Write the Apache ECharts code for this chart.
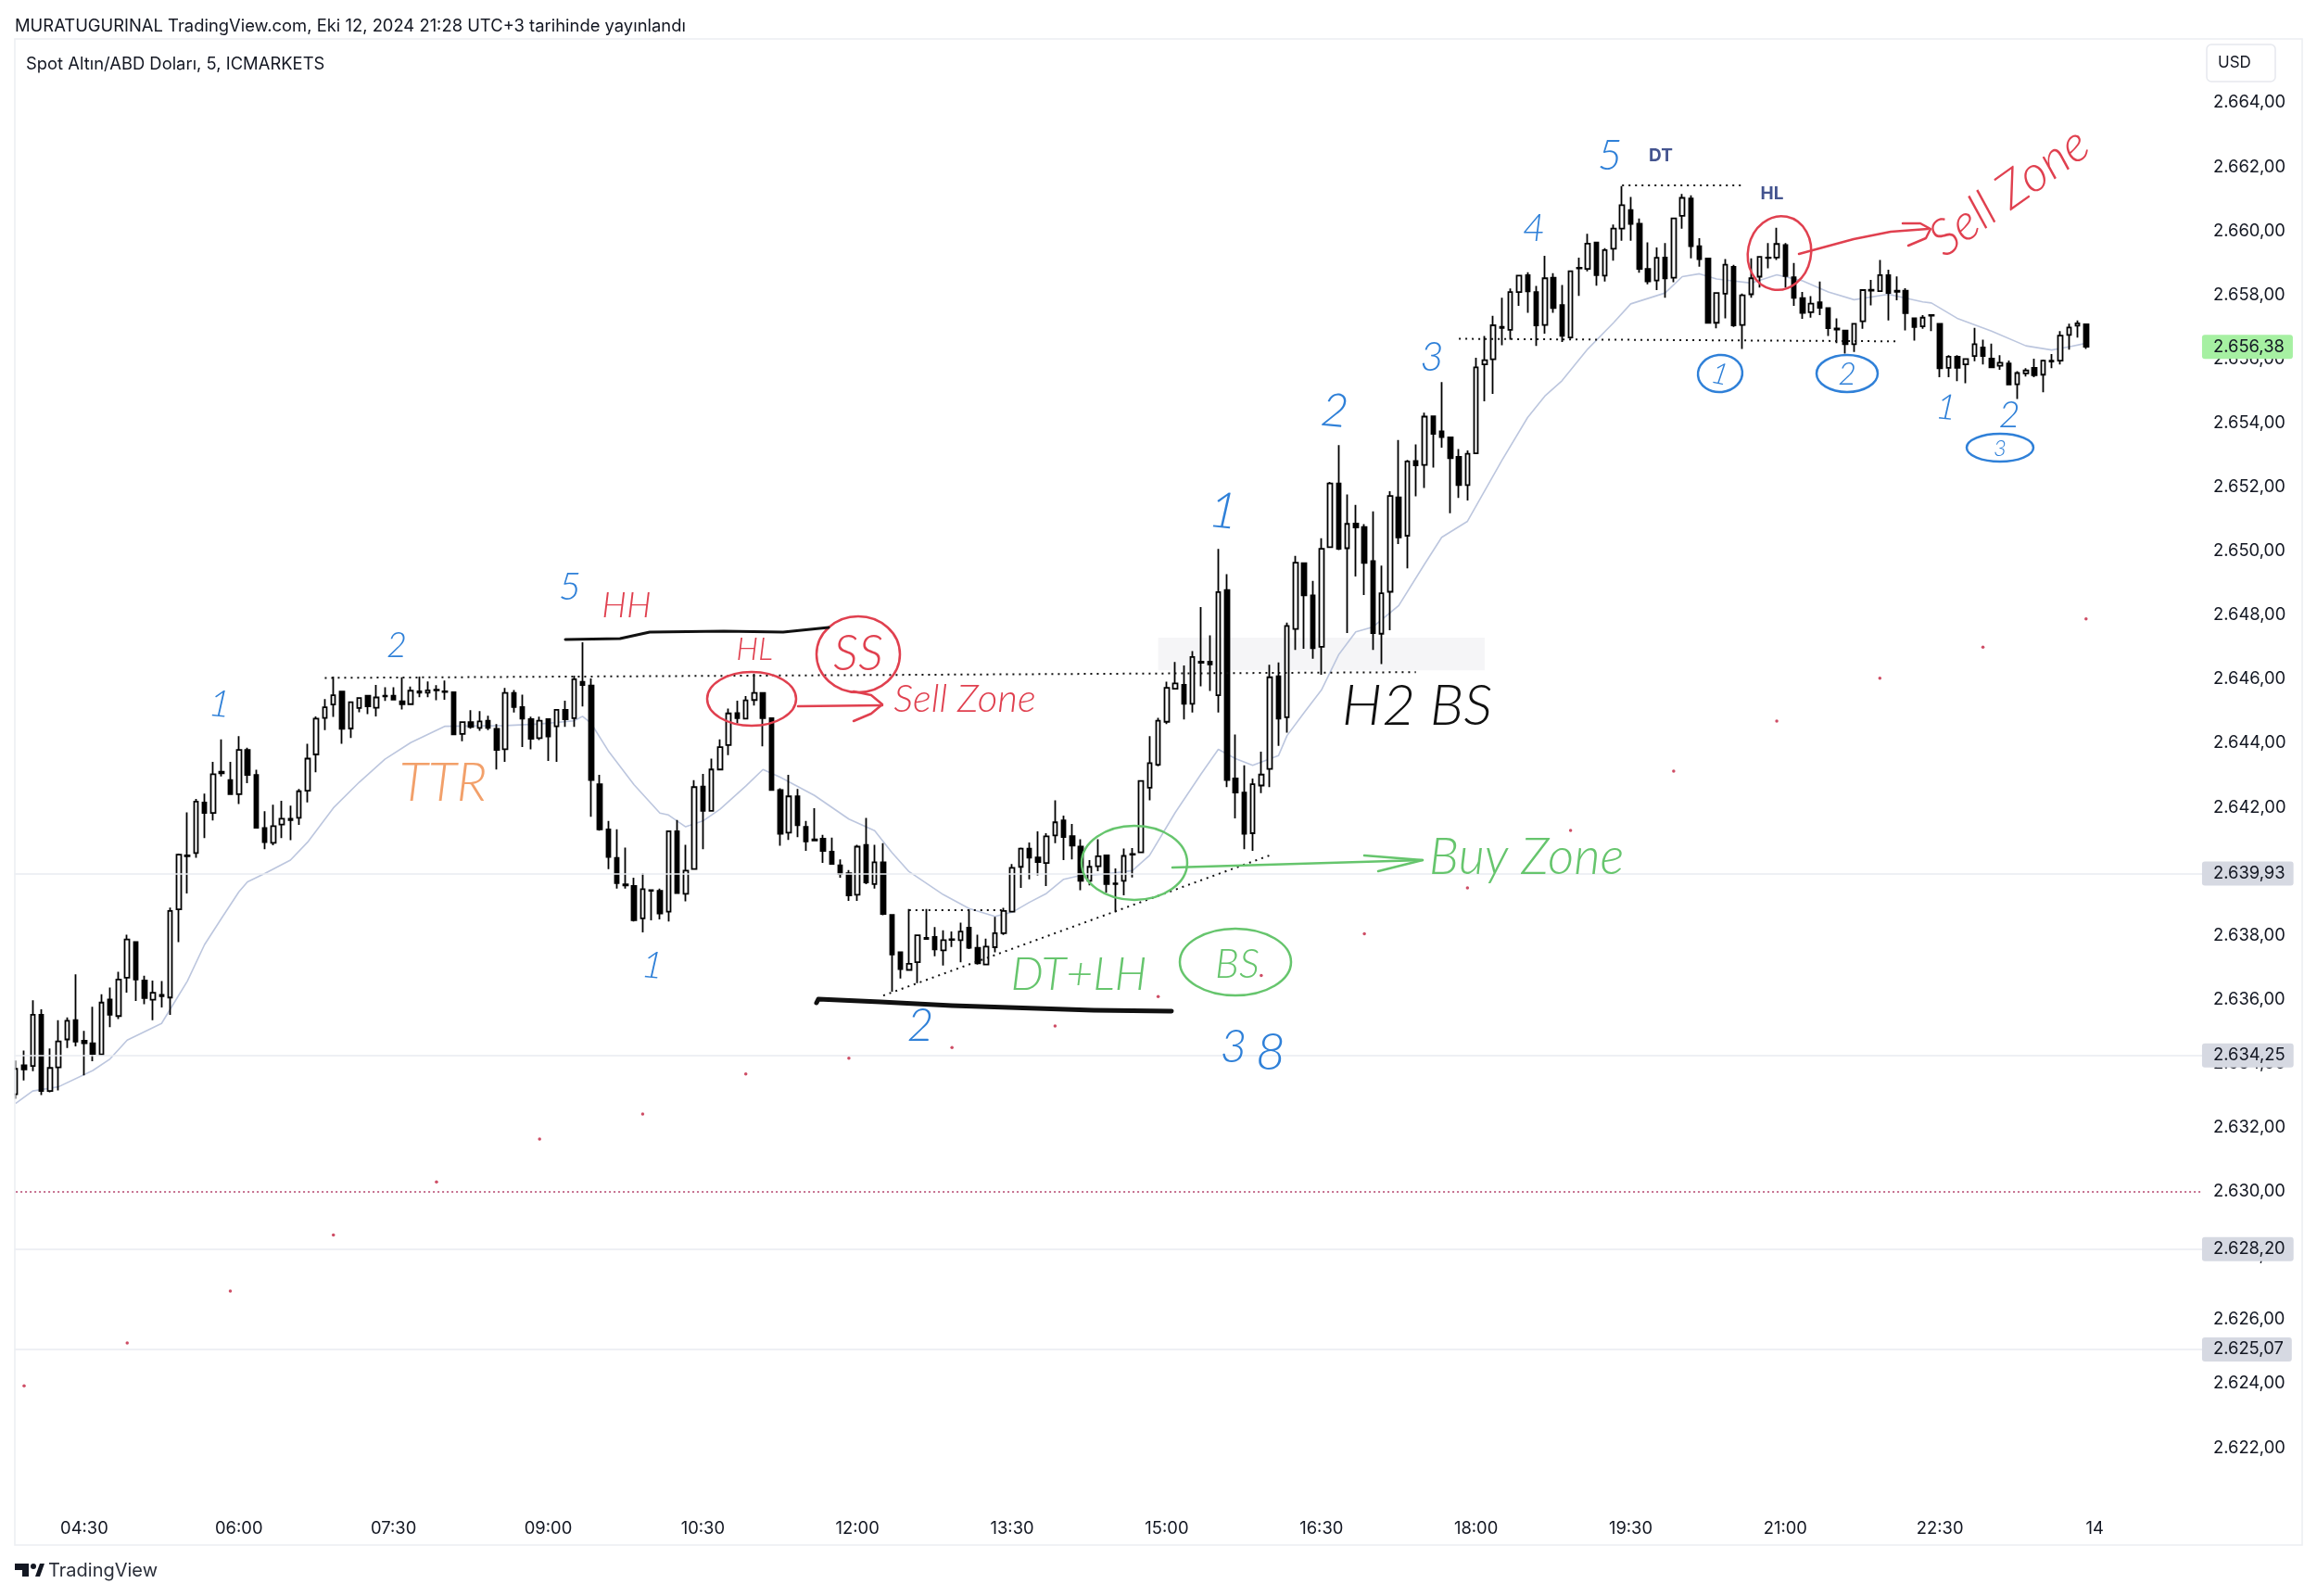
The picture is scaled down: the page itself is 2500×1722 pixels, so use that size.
<!DOCTYPE html>
<html>
<head>
<meta charset="utf-8">
<title>Spot Altın/ABD Doları</title>
<script src="https://cdn.jsdelivr.net/npm/echarts@6/dist/echarts.min.js"></script>
<style>
html, body { margin: 0; padding: 0; background: #fff; }
#chart { width: 2500px; height: 1722px; }
</style>
</head>
<body>
<div id="chart"></div>
<script>
// open, close, low, high - 5 minute bars
var candles = [
[2633.04,2633.83,2632.90,2634.09],[2633.94,2633.81,2633.47,2634.40],[2633.92,2635.52,2633.76,2635.97],[2635.52,2633.14,2633.01,2635.69],
[2633.14,2633.86,2633.10,2634.47],[2633.88,2634.69,2633.16,2635.35],[2634.75,2635.33,2634.48,2635.44],[2635.35,2634.68,2634.53,2636.78],
[2634.71,2634.63,2633.63,2635.02],[2634.63,2634.30,2634.07,2635.77],[2634.28,2635.90,2634.25,2636.16],[2636.00,2635.52,2635.13,2636.37],
[2635.48,2636.62,2635.39,2636.86],[2636.68,2637.87,2636.21,2638.02],[2637.79,2636.62,2635.95,2637.82],[2636.59,2636.04,2635.85,2636.74],
[2635.99,2636.21,2635.35,2636.59],[2636.14,2636.10,2635.75,2636.57],[2636.06,2638.76,2635.52,2638.87],[2638.81,2640.52,2637.79,2640.55],
[2640.50,2640.47,2639.31,2641.84],[2640.57,2642.18,2640.42,2642.26],[2642.15,2641.82,2641.04,2642.43],[2641.82,2643.03,2641.59,2643.42],
[2643.11,2643.06,2642.96,2644.12],[2642.85,2642.41,2642.38,2643.42],[2642.41,2643.79,2642.10,2644.22],[2643.79,2643.01,2642.75,2643.86],
[2643.01,2641.36,2641.35,2643.17],[2641.35,2640.91,2640.69,2641.88],[2640.89,2641.41,2640.81,2642.08],[2641.46,2641.64,2641.04,2642.20],
[2641.64,2641.60,2640.97,2642.05],[2641.67,2642.50,2641.45,2642.57],[2642.52,2643.52,2642.15,2643.98],[2643.65,2644.77,2643.09,2644.84],
[2644.79,2645.12,2644.41,2645.38],[2645.21,2645.50,2644.82,2646.08],[2645.61,2644.45,2643.98,2645.63],[2644.46,2645.28,2644.16,2645.30],
[2645.10,2645.41,2644.97,2645.44],[2645.48,2645.15,2644.91,2645.50],[2645.11,2645.43,2644.84,2645.82],[2645.48,2645.46,2645.32,2645.75],
[2645.48,2645.36,2645.34,2645.75],[2645.31,2645.22,2645.05,2646.06],[2645.22,2645.64,2645.20,2645.77],[2645.62,2645.58,2645.44,2646.08],
[2645.58,2645.65,2645.44,2645.93],[2645.67,2645.65,2645.34,2645.81],[2645.62,2645.60,2645.36,2645.96],[2645.59,2644.28,2644.26,2645.61],
[2644.29,2644.66,2644.06,2644.68],[2644.66,2644.51,2644.45,2645.03],[2644.48,2644.68,2644.39,2645.00],[2644.70,2644.48,2644.41,2644.86],
[2644.45,2643.79,2643.18,2644.60],[2643.81,2645.57,2643.42,2645.73],[2645.57,2645.13,2644.96,2645.66],[2645.13,2644.77,2643.88,2645.52],
[2644.75,2644.14,2643.81,2644.83],[2644.16,2644.70,2644.10,2644.83],[2644.75,2644.21,2643.45,2644.77],[2644.53,2645.04,2643.42,2645.06],
[2645.04,2644.75,2644.51,2645.33],[2644.78,2646.00,2644.51,2646.11],[2645.92,2645.82,2645.15,2647.15],[2645.80,2642.85,2641.70,2646.02],
[2642.72,2641.31,2641.27,2643.01],[2641.31,2640.45,2640.07,2641.57],[2640.42,2639.63,2639.46,2641.31],[2639.59,2639.56,2639.46,2640.74],
[2639.54,2638.47,2638.43,2639.80],[2638.53,2639.44,2638.09,2639.94],[2639.41,2639.39,2638.47,2639.43],[2639.39,2638.68,2638.50,2639.46],
[2638.74,2641.25,2638.43,2641.27],[2641.25,2639.32,2639.30,2641.60],[2639.30,2640.02,2639.06,2640.83],[2640.07,2642.63,2640.05,2642.85],
[2642.65,2641.89,2640.69,2643.04],[2641.89,2643.18,2641.87,2643.52],[2643.18,2643.88,2643.16,2644.12],[2643.94,2644.93,2643.63,2645.08],
[2644.94,2644.78,2644.62,2645.33],[2644.77,2645.34,2644.75,2645.47],[2645.35,2645.57,2645.18,2646.17],[2645.57,2644.78,2643.90,2645.58],
[2644.78,2642.54,2642.53,2644.80],[2642.54,2641.17,2640.80,2642.59],[2641.21,2642.34,2640.98,2643.01],[2642.34,2641.44,2641.07,2642.57],
[2641.39,2640.93,2640.64,2641.57],[2641.00,2640.96,2640.94,2641.97],[2641.02,2640.64,2640.26,2641.14],[2640.61,2640.23,2640.21,2641.05],
[2640.19,2639.92,2639.80,2640.37],[2639.94,2639.25,2639.08,2640.04],[2639.27,2640.77,2639.08,2640.83],[2640.82,2639.65,2639.60,2641.67],
[2639.60,2640.28,2639.46,2640.83],[2640.28,2638.67,2638.63,2640.88],[2638.64,2637.40,2636.24,2638.66],[2637.47,2636.95,2636.65,2637.49],
[2636.92,2637.11,2636.89,2638.82],[2637.16,2638.00,2636.51,2638.02],[2637.92,2637.89,2637.86,2638.82],[2637.95,2637.56,2637.35,2638.26],
[2637.53,2637.85,2637.06,2638.16],[2637.88,2637.86,2637.64,2638.12],[2637.85,2638.12,2637.16,2638.40],[2638.24,2637.61,2637.57,2638.81],
[2637.61,2637.13,2637.09,2638.02],[2637.09,2637.65,2637.07,2637.90],[2637.63,2638.07,2637.47,2638.58],[2638.07,2638.76,2638.01,2638.86],
[2638.74,2640.11,2638.72,2640.23],[2640.14,2640.71,2639.48,2640.74],[2640.71,2640.43,2639.75,2640.90],[2640.43,2640.29,2639.87,2641.25],
[2640.26,2641.09,2639.54,2641.19],[2641.12,2641.53,2640.88,2642.22],[2641.59,2641.07,2640.35,2641.74],[2641.10,2640.80,2640.37,2641.48],
[2640.77,2639.70,2639.41,2641.00],[2639.70,2640.14,2639.56,2640.35],[2640.16,2640.47,2640.00,2641.00],[2640.50,2639.60,2639.33,2640.52],
[2639.62,2639.60,2638.72,2640.09],[2639.70,2640.48,2639.25,2640.71],[2640.54,2640.52,2639.81,2640.73],[2640.59,2642.82,2640.57,2642.85],
[2642.61,2643.38,2642.22,2644.22],[2643.33,2644.70,2643.28,2644.79],[2644.67,2645.73,2644.60,2645.92],[2645.70,2645.87,2645.68,2646.54],
[2645.82,2645.23,2644.74,2646.43],[2645.23,2646.69,2644.96,2646.88],[2646.55,2646.51,2645.78,2648.25],[2646.55,2646.46,2645.63,2647.37],
[2645.50,2648.72,2644.96,2650.07],[2648.78,2642.85,2642.63,2649.28],[2642.90,2642.46,2641.65,2644.27],[2642.46,2641.17,2640.69,2643.31],
[2641.19,2642.72,2640.64,2642.90],[2642.68,2643.02,2642.44,2643.74],[2643.20,2646.06,2642.63,2646.45],[2646.09,2644.77,2643.92,2646.52],
[2644.81,2647.66,2644.33,2647.77],[2647.57,2649.64,2646.91,2649.85],[2649.62,2648.62,2646.95,2649.64],[2648.62,2646.97,2646.64,2649.07],
[2647.01,2650.07,2646.14,2650.40],[2650.12,2652.11,2650.10,2652.16],[2652.11,2650.07,2650.03,2653.31],[2650.09,2650.85,2647.44,2651.77],
[2650.86,2650.74,2649.21,2651.44],[2650.75,2649.63,2648.63,2650.84],[2649.69,2647.44,2646.91,2651.24],[2647.42,2648.68,2646.47,2649.55],
[2648.73,2651.72,2647.53,2651.87],[2651.68,2650.43,2650.22,2653.47],[2650.48,2652.80,2649.46,2652.85],[2652.81,2652.68,2651.71,2653.33],
[2652.69,2654.20,2651.97,2654.32],[2654.21,2653.66,2652.61,2654.23],[2653.74,2653.56,2653.23,2655.28],[2653.55,2652.90,2651.18,2653.57],
[2652.94,2652.06,2651.66,2653.19],[2652.06,2653.04,2651.58,2653.14],[2653.05,2655.74,2653.04,2656.04],[2655.83,2655.96,2654.68,2656.72],
[2655.99,2657.05,2654.91,2657.35],[2657.00,2656.97,2656.43,2657.91],[2656.91,2658.09,2656.60,2658.20],[2658.09,2658.60,2657.66,2658.63],
[2658.62,2658.11,2657.44,2658.71],[2658.09,2657.05,2656.41,2658.28],[2657.06,2658.52,2656.79,2659.22],[2658.54,2657.59,2657.44,2658.68],
[2657.68,2656.72,2656.53,2658.31],[2656.67,2658.74,2656.63,2658.76],[2658.85,2658.83,2657.97,2659.16],[2658.81,2659.60,2658.74,2659.91],
[2659.64,2658.62,2658.29,2659.66],[2658.60,2659.40,2658.42,2659.46],[2659.44,2660.07,2659.07,2660.20],[2660.07,2660.80,2659.69,2661.40],
[2660.65,2660.22,2659.69,2661.06],[2660.22,2658.81,2658.69,2660.39],[2658.81,2658.42,2658.33,2659.64],[2658.45,2659.16,2658.15,2659.48],
[2659.17,2658.52,2657.91,2659.62],[2658.54,2660.39,2658.40,2660.41],[2660.47,2661.03,2660.07,2661.15],[2661.01,2659.52,2659.14,2661.11],
[2659.52,2659.12,2658.88,2659.77],[2659.14,2657.13,2657.10,2659.16],[2657.13,2658.06,2656.96,2658.08],[2658.04,2658.94,2657.27,2659.12],
[2658.88,2657.05,2657.00,2658.94],[2657.06,2657.99,2656.31,2658.04],[2658.02,2658.52,2657.91,2659.14],[2658.57,2659.19,2658.23,2659.21],
[2659.17,2659.15,2658.83,2659.62],[2659.17,2659.59,2659.09,2660.10],[2659.56,2658.59,2658.23,2659.62],[2658.55,2657.91,2657.66,2659.00],
[2657.90,2657.44,2657.25,2658.09],[2657.46,2657.73,2657.29,2657.96],[2657.77,2657.60,2657.37,2658.42],[2657.59,2656.96,2656.72,2657.61],
[2656.95,2656.92,2656.49,2657.27],[2656.89,2656.46,2656.17,2656.91],[2656.46,2657.10,2656.22,2657.12],[2657.18,2658.15,2656.94,2658.17],
[2658.16,2658.13,2657.67,2658.47],[2658.12,2658.62,2658.10,2659.09],[2658.62,2658.06,2657.20,2658.79],[2658.13,2658.10,2657.83,2658.58],
[2658.13,2657.43,2656.89,2658.21],[2657.27,2657.00,2656.57,2657.29],[2657.02,2657.29,2656.94,2657.37],[2657.37,2657.35,2656.87,2657.39],
[2657.10,2655.71,2655.43,2657.12],[2655.72,2656.07,2655.43,2656.12],[2656.07,2655.72,2655.31,2656.12],[2655.83,2656.00,2655.24,2656.02],
[2656.09,2656.46,2655.93,2656.97],[2656.36,2656.09,2655.83,2656.60],[2656.01,2655.74,2655.71,2656.48],[2655.79,2655.88,2655.66,2656.12],
[2655.86,2655.20,2655.18,2655.95],[2655.21,2655.56,2654.75,2655.62],[2655.55,2655.64,2655.45,2655.71],[2655.72,2655.49,2655.43,2656.01],
[2655.51,2655.95,2654.96,2655.98],[2655.95,2655.92,2655.71,2656.15],[2655.95,2656.73,2655.83,2656.87],[2656.75,2656.98,2656.29,2657.10],
[2657.04,2657.11,2656.67,2657.20],[2657.08,2656.38,2656.31,2657.10]
];

// moving average, sampled where it can be seen (bar number, price)
var maBars = [0,2,5,9,11,13,17,18,20,22,24,26,27,29,32,34,37,40,43,46,50,57,61,65,66,67,69,72,75,76,78,80,82,85,87,89,93,97,100,102,104,108,111,114,116,118,120,122,124,127,130,132,135,138,140,142,144,147,148,150,152,154,156,158,161,164,166,169,173,176,178,180,183,186,188,192,194,196,198,202,205,208,211,214,218,222,223,226,230,234,237,239,241];
var maValues = [2632.75,2633.14,2633.27,2633.78,2634.14,2634.73,2635.25,2635.69,2636.57,2637.71,2638.54,2639.36,2639.67,2639.93,2640.35,2640.91,2641.98,2642.78,2643.50,2644.02,2644.53,2644.55,2644.60,2644.70,2644.84,2644.62,2643.76,2642.70,2641.82,2641.76,2641.39,2641.57,2641.94,2642.66,2643.18,2642.94,2642.37,2641.63,2641.27,2640.59,2639.99,2639.27,2638.84,2638.59,2638.72,2639.03,2639.31,2639.75,2639.87,2639.92,2640.02,2640.50,2641.84,2643.04,2643.81,2643.52,2643.31,2643.61,2644.24,2644.96,2645.66,2646.76,2647.48,2647.63,2648.30,2649.59,2650.43,2650.93,2652.83,2654.17,2654.84,2655.32,2656.31,2657.13,2657.72,2658.06,2658.57,2658.66,2658.50,2658.37,2658.63,2658.44,2658.09,2657.85,2658.02,2657.78,2657.75,2657.27,2656.87,2656.41,2656.28,2656.38,2656.49];

// red dots, one per hour
var dotBars = [1,13,25,37,49,61,73,85,97,109,121,133,145,157,169,181,193,205,217,229,241];
var dotValues = [2623.93,2625.27,2626.89,2628.64,2630.30,2631.64,2632.42,2633.67,2634.16,2634.50,2635.17,2636.09,2636.75,2638.05,2639.48,2641.28,2643.13,2644.69,2646.03,2647.00,2647.88];

var tickBars = [8,26,44,62,80,98,116,134,152,170,188,206,224,242];
var tickLabels = ['04:30','06:00','07:30','09:00','10:30','12:00','13:30','15:00','16:30','18:00','19:30','21:00','22:30','14'];

var levelValues = [2639.93,2634.25,2628.20,2625.07];
var lastPrice = 2656.38;
var dashedLevel = 2630;

// drawn dotted lines: bar from, price from, bar to, price to
var dottedLines = [
  [36,2646.04,163,2646.22],
  [104,2638.80,115,2638.80],
  [101,2636.12,146,2640.50],
  [187,2661.42,201,2661.42],
  [168,2656.63,219,2656.55]
];

var X_LEFT = 12.1, BAND = 9.27, BAND_COUNT = 255;
var categories = [];
for (var i = 0; i < BAND_COUNT; i++) categories.push(String(i));

function priceText(v) {
  var s = v.toFixed(2).replace('.', ',');
  return s.charAt(0) + '.' + s.slice(1);
}

var FONT = 'Inter, "Noto Sans", sans-serif';
var INK = '"Lato", "Open Sans", sans-serif';
var BLUE = '#2f80d8', RED = '#e0404f', GREEN = '#66c56d', ORANGE = '#f2a06a', BLACK = '#111111';

// handwriting on the chart: text, x, y, size, colour, rotation
var notes = [
  ['1',237,760,40,BLUE,-0.1],['2',428,697,38,BLUE,0],['5',615,633,42,BLUE,0],
  ['HH',676,654,38,RED,0],['HL',814,701,34,RED,0],['SS',926,706,54,RED,0],
  ['Sell Zone',1041,754,42,RED,0],['TTR',478,845,58,ORANGE,0],
  ['1',704,1042,40,BLUE,-0.1],['2',993,1107,50,BLUE,0],['3',1331,1130,50,BLUE,0],['8',1371,1136,56,BLUE,0],
  ['DT+LH',1164,1052,50,GREEN,0],['BS',1335,1041,44,GREEN,0],['Buy Zone',1647,925,55,GREEN,0],
  ['H2 BS',1529,762,62,BLACK,0],['1',1320,552,54,BLUE,-0.1],['2',1440,444,50,BLUE,-0.1],
  ['3',1545,386,44,BLUE,0],['4',1655,246,42,BLUE,0],['5',1737,168,46,BLUE,0],
  ['1',1856,404,32,BLUE,-0.2],['2',1993,404,34,BLUE,0],['1',2100,440,38,BLUE,-0.1],['2',2168,448,40,BLUE,0],['3',2158,484,24,BLUE,0],
  ['Sell Zone',2168,207,54,RED,0.62]
];

// hand drawn rings: cx, cy, rx, ry, colour, rotation
var rings = [
  [926,706,45,41,RED,0],[811,754,48,29,RED,0],[1224,931,57,40,GREEN,0],[1333,1038,60,36,GREEN,0],
  [1920,273,34,40,RED,-0.2],[1856,403,24,20,BLUE,0.1],[1993,403,33,20,BLUE,0],[2158,483,36,15,BLUE,0]
];

// hand drawn strokes: points, colour, width
var strokes = [
  [[[610,690],[669,689],[701,682],[781,681],[845,682],[894,677]],BLACK,3],
  [[[881,1082],[883,1078],[950,1081],[1027,1085],[1180,1090],[1264,1091]],BLACK,5],
  [[[861,762],[952,761]],RED,2.5],
  [[[921,746],[940,750],[952,760],[940,770],[921,778]],RED,2.5],
  [[[1941,274],[2000,258],[2040,250],[2080,247]],RED,2.5],
  [[[2053,241],[2072,241],[2083,247],[2078,257],[2059,265]],RED,2.5],
  [[[1265,936],[1535,928]],GREEN,2.5],
  [[[1472,923],[1535,928],[1487,940]],GREEN,2.5]
];

var graphics = [
  { type: 'rect', z: 90, shape: { x: 0, y: 30, width: 15.5, height: 1660 }, style: { fill: '#fff' } },
  { type: 'rect', z: 91, shape: { x: 16, y: 42, width: 2468, height: 1625 }, style: { fill: 'none', stroke: '#eceef2', lineWidth: 1.5 } },
  { type: 'rect', z: 91, shape: { x: 2381, y: 48, width: 74, height: 40, r: 5 }, style: { fill: '#fff', stroke: '#e6e8ee', lineWidth: 1.5 } },
  { type: 'text', z: 92, x: 2393, y: 68, style: { text: 'USD', font: '17px ' + FONT, fill: '#131722', textVerticalAlign: 'middle' } },
  { type: 'text', z: 92, x: 16, y: 28, style: { text: 'MURATUGURINAL TradingView.com, Eki 12, 2024 21:28 UTC+3 tarihinde yayınlandı', font: '18.4px ' + FONT, fill: '#131722', textVerticalAlign: 'middle' } },
  { type: 'text', z: 92, x: 28, y: 69.5, style: { text: 'Spot Altın/ABD Doları, 5, ICMARKETS', font: '18.4px ' + FONT, fill: '#131722', textVerticalAlign: 'middle' } },
  { type: 'text', z: 92, x: 52, y: 1694.5, style: { text: 'TradingView', font: '20px ' + FONT, fill: '#2a2e39', textVerticalAlign: 'middle' } },
  { type: 'polygon', z: 92, shape: { points: [[16,1687],[31,1687],[31,1701],[24,1701],[24,1694],[16,1694]] }, style: { fill: '#131722' } },
  { type: 'polygon', z: 92, shape: { points: [[38,1701],[43,1687],[48,1687],[43,1701]] }, style: { fill: '#131722' } },
  { type: 'circle', z: 92, shape: { cx: 36, cy: 1690, r: 3 }, style: { fill: '#131722' } },
  { type: 'text', z: 92, x: 1792, y: 168, style: { text: 'DT', font: 'bold 19px ' + FONT, fill: '#44548f', textAlign: 'center', textVerticalAlign: 'middle' } },
  { type: 'text', z: 92, x: 1912, y: 209, style: { text: 'HL', font: 'bold 19px ' + FONT, fill: '#44548f', textAlign: 'center', textVerticalAlign: 'middle' } }
];

rings.forEach(function (r) {
  graphics.push({
    type: 'ellipse', z: 95, x: r[0], y: r[1], rotation: r[5],
    shape: { cx: 0, cy: 0, rx: r[2], ry: r[3] },
    style: { fill: 'none', stroke: r[4], lineWidth: 2.5 }
  });
});
strokes.forEach(function (s) {
  graphics.push({
    type: 'polyline', z: 95, shape: { points: s[0] },
    style: { fill: 'none', stroke: s[1], lineWidth: s[2], lineCap: 'round', lineJoin: 'round' }
  });
});
notes.forEach(function (n) {
  graphics.push({
    type: 'text', z: 96, x: n[1], y: n[2], rotation: n[5],
    style: { text: n[0], font: 'italic 300 ' + n[3] + 'px ' + INK, fill: n[4], textAlign: 'center', textVerticalAlign: 'middle' }
  });
});

function levelLine(value, bg, lineColor) {
  return {
    yAxis: value,
    lineStyle: { color: lineColor, width: 1.5, type: 'solid' },
    label: {
      show: true, position: 'end', distance: 0, formatter: priceText(value),
      backgroundColor: bg, color: '#131722', fontFamily: FONT, fontSize: 18.4,
      padding: [4, 9, 4, 12], borderRadius: 3
    }
  };
}

var markLines = levelValues.map(function (v) { return levelLine(v, '#d6d9e2', '#e9ebf0'); });
markLines.push(levelLine(lastPrice, '#a6f0a2', 'rgba(255,255,255,0)'));
markLines.push({
  yAxis: dashedLevel,
  lineStyle: { color: '#b3406a', width: 1.5, type: [2, 3] },
  label: { show: false }
});
dottedLines.forEach(function (d) {
  markLines.push([
    { coord: [d[0], d[1]], lineStyle: { color: '#111', width: 2, type: [2, 5] }, label: { show: false } },
    { coord: [d[2], d[3]] }
  ]);
});

var chart = echarts.init(document.getElementById('chart'));
chart.setOption({
  animation: false,
  backgroundColor: '#ffffff',
  grid: { left: X_LEFT, top: 41.8, width: BAND * BAND_COUNT, height: 1589.3, containLabel: false },
  xAxis: {
    type: 'category',
    data: categories,
    axisLine: { show: false },
    axisTick: { show: false },
    splitLine: { show: false },
    axisLabel: {
      margin: 9, fontFamily: FONT, fontSize: 18.4, color: '#131722',
      interval: function (index) { return tickBars.indexOf(index) >= 0; },
      formatter: function (value, index) {
        var p = tickBars.indexOf(index);
        return p >= 0 ? tickLabels[p] : '';
      }
    }
  },
  yAxis: {
    type: 'value',
    position: 'right',
    min: 2620,
    max: 2666,
    interval: 2,
    axisLine: { show: false },
    axisTick: { show: false },
    splitLine: { show: false },
    axisLabel: {
      margin: 12, fontFamily: FONT, fontSize: 18.4, color: '#131722', padding: [3, 0, 0, 0],
      formatter: function (v) { return (v === 2620 || v === 2666) ? '' : priceText(v); }
    }
  },
  graphic: graphics,
  series: [
    {
      type: 'line',
      data: maBars.map(function (b, i) { return [b, maValues[i]]; }),
      showSymbol: false,
      silent: true,
      z: 1,
      lineStyle: { color: '#bcc6de', width: 1.6 }
    },
    {
      type: 'candlestick',
      data: candles,
      barWidth: 5,
      z: 3,
      itemStyle: { color: '#ffffff', color0: '#000000', borderColor: '#000000', borderColor0: '#000000', borderWidth: 1.8 },
      markLine: { silent: true, symbol: ['none', 'none'], precision: 2, data: markLines },
      markArea: {
        silent: true,
        itemStyle: { color: '#f5f5f7' },
        data: [[{ coord: [133, 2647.30] }, { coord: [171, 2646.28] }]]
      }
    },
    {
      type: 'scatter',
      data: dotBars.map(function (b, i) { return [b, dotValues[i]]; }),
      symbolSize: 3.5,
      silent: true,
      z: 4,
      itemStyle: { color: '#c2213f' }
    }
  ]
});
</script>
</body>
</html>
